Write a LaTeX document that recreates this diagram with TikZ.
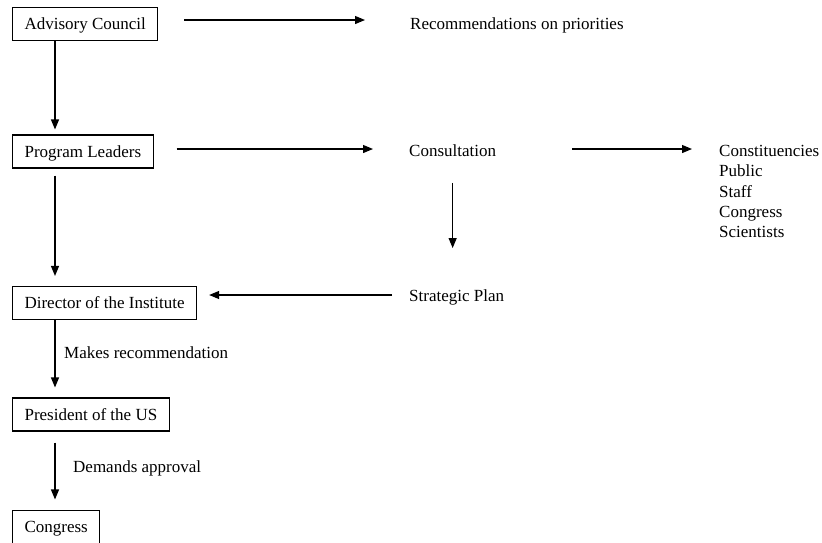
\documentclass[tikz,border=0pt]{standalone}
\usepackage{fontspec}
\setmainfont{Liberation Serif}
\usetikzlibrary{arrows.meta, positioning}

\begin{document}
\begin{tikzpicture}[x=1pt, y=-1pt,
      box/.style={draw, line width=1.1pt, anchor=west, inner xsep=12pt,
      minimum height=33pt, text height=12pt, text depth=0.5pt,
      font=\fontsize{17pt}{20.3pt}\selectfont},
      plain/.style={anchor=west, inner sep=0pt, text height=12pt,
      text depth=3.5pt, font=\fontsize{17pt}{20.3pt}\selectfont},
      flow/.style={line width=1.2pt, -{Triangle[length=10pt, width=8pt]}} ]
    \useasboundingbox (0,0) rectangle (822,542);

    % Chain of boxes
    \node[box] (ac) at (12,24) {Advisory Council}; \node[box] (pl) at
    (12,151.5) {Program Leaders}; \node[box] (di) at (12,303) {Director of
    the Institute}; \node[box] (pr) at (12,414.5) {President of the US};
    \node[box] (co) at (12,527) {Congress};

    % Plain texts
    \node[plain] (rec) at (410,25) {Recommendations on priorities};
    \node[plain] (con) at (409,152) {Consultation}; \node[plain] (sp) at
    (409,297) {Strategic Plan};
    \node[plain, anchor=north west, align=left, text height=, text depth=]
    (lst) at (719,145) {Constituencies\\Public\\Staff\\Congress\\Scientists};

    % Labels on the spine
    \node[plain] (mkr) at (64,354) {Makes recommendation}; \node[plain]
    (dma) at (73,468) {Demands approval};

    % Spine on the left
    \coordinate (spine) at (55,0);
    \draw[flow, shorten >=5pt] (ac.south -| spine) -- (pl.north -| spine);
    \draw[flow, shorten <=7pt, shorten >=10pt] (pl.south -| spine) --
    (di.north -| spine); \draw[flow, shorten >=10pt] (di.south -| spine) --
    (pr.north -| spine); \draw[flow, shorten <=11pt, shorten >=10.5pt]
    (pr.south -| spine) -- (co.north -| spine);

    % Horizontal arrows
    \draw[flow, shorten <=26pt, shorten >=45pt] ([yshift=4pt]ac.east) --
    ([yshift=5pt]rec.west); \draw[flow, shorten <=23pt, shorten >=36pt]
    ([yshift=2.5pt]pl.east) -- ([yshift=3pt]con.west); \draw[flow, shorten
    <=76pt, shorten >=27pt] ([yshift=3pt]con.east) -- ([yshift=3pt]con.east
    -| lst.west); \draw[flow, shorten <=17pt, shorten >=12pt]
    ([yshift=2pt]sp.west) -- ([yshift=2pt]sp.west -| di.east);

    % Consultation down to the plan
    \draw[flow, shorten <=23pt, shorten >=41pt] (con.south) -- (con.south
    |- sp.north);

    \end{tikzpicture}
\end{document}
